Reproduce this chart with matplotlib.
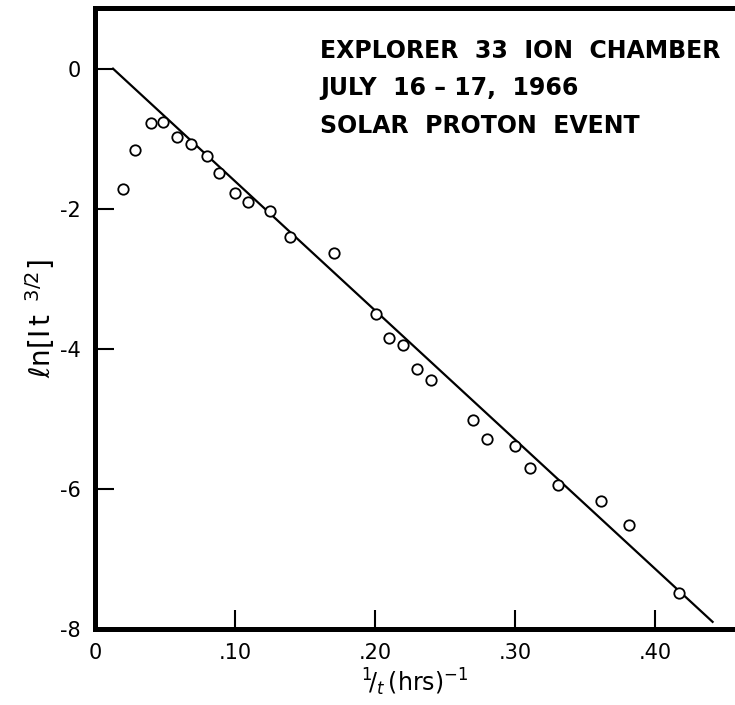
import numpy as np
import matplotlib.pyplot as plt

# Explorer 33 ion chamber, July 16-17 1966 solar proton event
inv_t = [0.020, 0.029, 0.040, 0.049, 0.059, 0.069, 0.080, 0.089, 0.100, 0.109,
         0.125, 0.139, 0.171, 0.201, 0.210, 0.220, 0.230, 0.240, 0.270, 0.280,
         0.300, 0.311, 0.331, 0.361, 0.381, 0.417]
ln_it = [-1.72, -1.16, -0.78, -0.76, -0.97, -1.07, -1.24, -1.49, -1.77, -1.91,
         -2.03, -2.40, -2.63, -3.50, -3.85, -3.94, -4.29, -4.44, -5.02, -5.29,
         -5.39, -5.70, -5.94, -6.18, -6.52, -7.49]

# straight line fit drawn through the points
fit_x = [0.013, 0.441]
fit_y = [0.0, -7.90]

xticks = [0, 0.10, 0.20, 0.30, 0.40]
xtick_labels = ['0', '.10', '.20', '.30', '.40']
yticks = [0, -2, -4, -6, -8]
ytick_labels = ['0', '-2', '-4', '-6', '-8']

fig = plt.figure(figsize=(7.35, 7.05), dpi=100)
ax = fig.add_axes([0.129, 0.108, 0.871, 0.881])

ax.plot(fit_x, fit_y, color='black', lw=1.6)
ax.plot(inv_t, ln_it, 'o', mfc='white', mec='black', ms=7.5, mew=1.3)

ax.set_xlim(0, 0.457)
ax.set_ylim(-8, 0.87)

for side in ['left', 'bottom', 'top']:
    ax.spines[side].set_linewidth(3.6)
ax.spines['right'].set_visible(False)

ax.set_xticks(xticks)
ax.set_xticklabels(xtick_labels)
ax.set_yticks(yticks)
ax.set_yticklabels(ytick_labels)
ax.tick_params(direction='in', length=14, width=1.5, labelsize=15, pad=10)

ax.set_xlabel(r'$^1\!/_t\,(\mathrm{hrs})^{-1}$', fontsize=17, labelpad=3)
ax.set_ylabel(r'$\ell\mathrm{n}\left[\mathrm{I\,t}^{\ \ 3/2}\right]$', fontsize=20, labelpad=2)

ax.text(0.352, 0.95, 'EXPLORER  33  ION  CHAMBER\nJULY  16 \u2013 17,  1966\nSOLAR  PROTON  EVENT',
        transform=ax.transAxes, ha='left', va='top', fontsize=17,
        fontweight='bold', linespacing=1.72)

fig.savefig('out.png', dpi=100)
